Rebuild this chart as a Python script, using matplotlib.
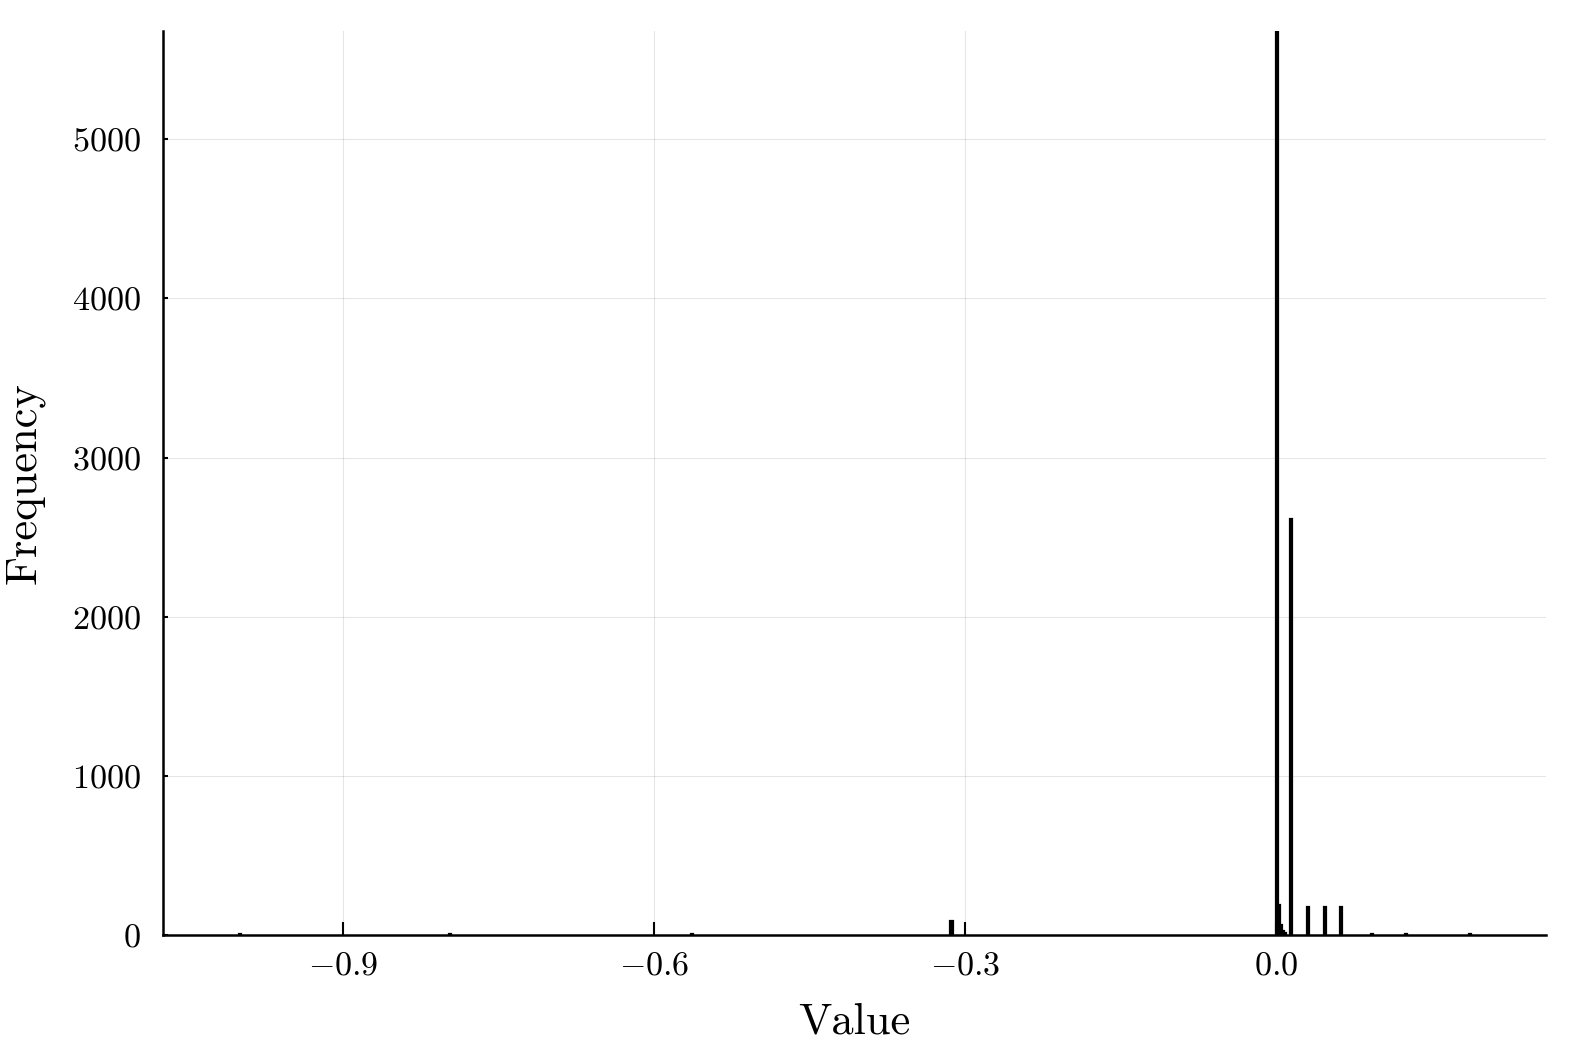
import numpy as np
import matplotlib
matplotlib.use("Agg")
import matplotlib.pyplot as plt

plt.rcParams["font.family"] = "serif"
plt.rcParams["font.serif"] = ["cmr10"]
plt.rcParams["mathtext.fontset"] = "cm"
plt.rcParams["axes.formatter.use_mathtext"] = True

# histogram (bin width 0.002)
bin_centers = [-0.999, -0.797, -0.563, -0.313, 0.001, 0.003, 0.005, 0.007, 0.009,
               0.0145, 0.031, 0.047, 0.063, 0.093, 0.125, 0.187]
counts = [6, 5, 5, 88, 5675, 190, 65, 25, 12, 2611, 176, 176, 176, 6, 6, 6]
bin_width = 0.002

x_ticks = [-0.9, -0.6, -0.3, 0.0]
y_ticks = [0, 1000, 2000, 3000, 4000, 5000]

fig = plt.figure(figsize=(15.78, 10.52), dpi=100)
ax = fig.add_axes([0.1033, 0.1112, 0.9797 - 0.1033, 0.9705 - 0.1112])

ax.bar(bin_centers, counts, width=bin_width, color="black", edgecolor="black",
       linewidth=1.6, zorder=3)

ax.set_xlim(-1.0736, 0.2604)
ax.set_ylim(0, 5680)

ax.set_xticks(x_ticks, labels=[f"${v:.1f}$" for v in x_ticks])
ax.set_yticks(y_ticks, labels=[f"${v}$" for v in y_ticks])

ax.grid(True, color="black", alpha=0.1, linewidth=0.8)
ax.set_axisbelow(True)

for s in ["top", "right"]:
    ax.spines[s].set_visible(False)
for s in ["left", "bottom"]:
    ax.spines[s].set_linewidth(1.8)
    ax.spines[s].set_zorder(4)

ax.tick_params(axis="x", direction="in", length=9.5, width=1.5, labelsize=24.5, pad=12)
ax.tick_params(axis="y", direction="in", length=3.5, width=1.5, labelsize=24.5, pad=16)

ax.set_xlabel("Value", fontsize=32, labelpad=16)
ax.set_ylabel("Frequency", fontsize=32, labelpad=20)

fig.savefig("out.png", dpi=100)
